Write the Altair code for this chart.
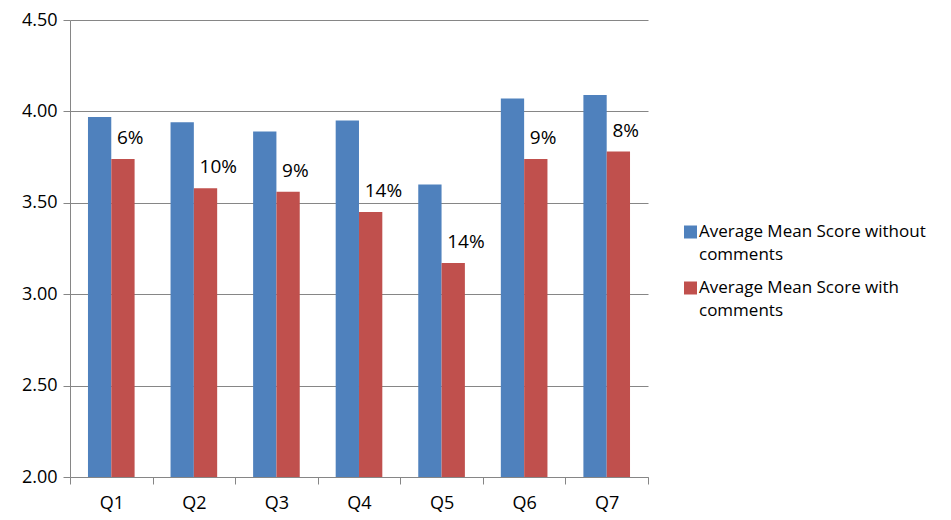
import altair as alt
import pandas as pd

questions = ["Q1", "Q2", "Q3", "Q4", "Q5", "Q6", "Q7"]
without_comments = [3.97, 3.94, 3.89, 3.95, 3.60, 4.07, 4.09]
with_comments = [3.74, 3.58, 3.56, 3.45, 3.17, 3.74, 3.78]
pct_labels = ["6%", "10%", "9%", "14%", "14%", "9%", "8%"]
series_names = ["Average Mean Score without comments", "Average Mean Score with comments"]
legend_lines = [["Average Mean Score without", "comments"],
                ["Average Mean Score with", "comments"]]
colors = ["#4F81BD", "#C0504D"]
y_ticks = [2.0, 2.5, 3.0, 3.5, 4.0, 4.5]

rows = []
for q, a, b in zip(questions, without_comments, with_comments):
    rows.append({"Question": q, "Series": series_names[0], "Score": a})
    rows.append({"Question": q, "Series": series_names[1], "Score": b})
df = pd.DataFrame(rows)
lab = pd.DataFrame({"Question": questions, "Series": series_names[1],
                    "Score": with_comments, "Label": pct_labels})
leg = pd.DataFrame({"Series": series_names, "Lines": legend_lines})

FONT = "Open Sans"
GRAY = "#868686"

x = alt.X("Question:N", sort=questions, title=None,
          scale=alt.Scale(paddingInner=0, paddingOuter=0),
          axis=alt.Axis(labelAngle=0, tickBand="extent", tickSize=7,
                        labelPadding=10, domainColor=GRAY, tickColor=GRAY,
                        labelFontSize=18, labelFont=FONT, labelColor="#000000"))
xo = alt.XOffset("Series:N", sort=series_names,
                 scale=alt.Scale(domain=series_names, paddingInner=0, paddingOuter=0.77))
y_scale = alt.Scale(domain=[2, 4.5], zero=False, nice=False)
y = alt.Y("Score:Q", title=None, scale=y_scale,
          axis=alt.Axis(values=y_ticks, format=".2f", tickSize=7, labelPadding=6,
                        grid=True, gridColor=GRAY, domainColor=GRAY, tickColor=GRAY,
                        labelFontSize=18, labelFont=FONT, labelColor="#000000"))
color = alt.Color("Series:N", sort=series_names,
                  scale=alt.Scale(domain=series_names, range=colors), legend=None)

bars = alt.Chart(df).mark_bar(size=23.3).encode(
    x=x, xOffset=xo, y=y, y2=alt.datum(2), color=color
)

texts = alt.Chart(lab).mark_text(align="left", baseline="alphabetic", dx=-6, dy=-15,
                                 font=FONT, fontSize=19, color="#000000").encode(
    x=x, xOffset=xo, y=y, text="Label:N"
)

# legend, drawn as its own small layer on a point scale
leg_y = alt.Y("Series:N", sort=series_names, axis=None,
              scale=alt.Scale(type="point", domain=series_names, range=[212, 268], padding=0))
leg_sym = alt.Chart(leg).mark_square(size=169, opacity=1).encode(
    x=alt.value(620.5), y=leg_y, color=color
)
leg_txt = alt.Chart(leg).mark_text(align="left", baseline="middle", lineHeight=23,
                                   font=FONT, fontSize=17, color="#000000").encode(
    x=alt.value(629), y=leg_y, text="Lines"
)

main = alt.layer(bars, texts)
legend_layer = alt.layer(leg_sym, leg_txt)

chart = alt.layer(main, legend_layer).resolve_scale(y="independent").properties(
    width=578, height=457,
    autosize=alt.AutoSizeParams(type="none"),
    padding={"left": 62, "top": 12, "right": 295, "bottom": 35},
).configure_view(strokeWidth=0)

chart.save("out.html", embed_options={"renderer": "svg", "actions": False})
